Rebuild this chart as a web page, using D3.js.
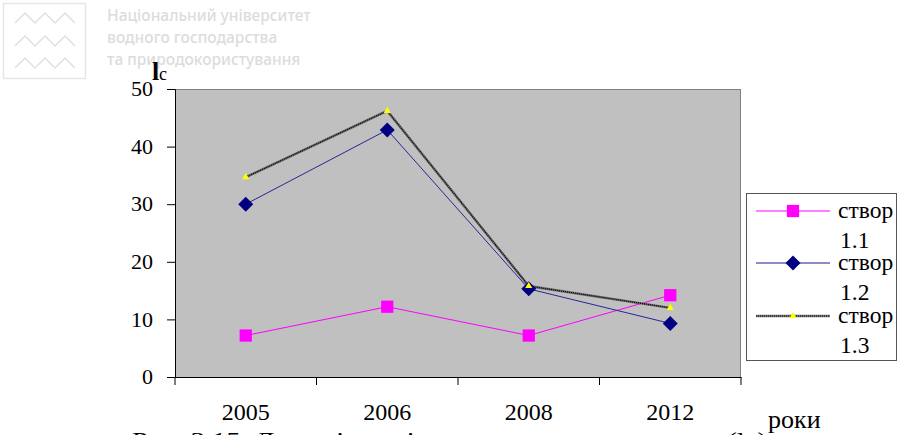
<!DOCTYPE html>
<html><head><meta charset="utf-8">
<script src="https://cdn.jsdelivr.net/npm/d3@7"></script>
<style>body{margin:0;background:#fff}svg{display:block}</style>
</head><body>
<svg id="c" width="900" height="435"></svg>
<script>
const years = ["2005", "2006", "2008", "2012"];
const s11 = [7.2, 12.2, 7.2, 14.2];
const s12 = [30, 42.9, 15.3, 9.3];
const s13 = [34.7, 46.2, 15.8, 12];
const yTicks = [0, 10, 20, 30, 40, 50];
const seriesNames = ["створ 1.1", "створ 1.2", "створ 1.3"];

const SERIF = '"Liberation Serif", "Times New Roman", serif';
const svg = d3.select("#c");
const L = 175, R = 741, T = 89, B = 377;
const x = d3.scaleBand().domain(years).range([L, R]);
const y = d3.scaleLinear().domain([0, 50]).range([B, T]);

// watermark
const wm = svg.append("g");
wm.append("rect").attr("x", 3.5).attr("y", 3.5).attr("width", 82).attr("height", 75)
  .attr("fill", "none").attr("stroke", "#e6e6e6").attr("stroke-width", 1.5);
[18, 41, 63].forEach(cy => {
  const pts = [];
  for (let i = 0; i <= 6; i++) pts.push([15 + i * 10, cy + (i % 2 === 0 ? 5 : -5)]);
  wm.append("path").attr("d", d3.line()(pts)).attr("fill", "none")
    .attr("stroke", "#e0e0e0").attr("stroke-width", 1.5);
});
const wmText = ["Національний університет", "водного господарства", "та природокористування"];
wm.selectAll("text.w").data(wmText).enter().append("text")
  .attr("x", 107).attr("y", (d, i) => 21 + i * 22)
  .style("font-family", '"Noto Sans", "Open Sans", sans-serif').attr("font-weight", 500)
  .attr("font-size", 15.5).attr("fill", "#dcdcdc").text(d => d);

// plot area
svg.append("rect").attr("x", L).attr("y", T).attr("width", R - L).attr("height", B - T)
  .attr("fill", "#c0c0c0");
svg.append("line").attr("x1", L).attr("x2", R).attr("y1", T + 0.5).attr("y2", T + 0.5)
  .attr("stroke", "#808080");
svg.append("line").attr("x1", R - 0.5).attr("x2", R - 0.5).attr("y1", T).attr("y2", B)
  .attr("stroke", "#808080");

// axes
const yAx = svg.append("g").attr("transform", `translate(${L},0)`)
  .call(d3.axisLeft(y).tickValues(yTicks).tickSize(8).tickPadding(14).tickFormat(d3.format("d")));
yAx.select(".domain").attr("stroke", "#000");
yAx.selectAll("text").style("font-family", SERIF).attr("font-size", 22).attr("fill", "#000").attr("dy", "0.3em");
const xAx = svg.append("g").attr("transform", `translate(0,${B})`)
  .call(d3.axisBottom(x).tickSize(0).tickPadding(26));
xAx.select(".domain").attr("stroke", "#000");
xAx.selectAll("text").style("font-family", SERIF).attr("font-size", 24).attr("fill", "#000");
xAx.selectAll(".bt").data(years.concat(["end"])).enter().append("line")
  .attr("x1", (d, i) => i < years.length ? x(d) : R).attr("x2", (d, i) => i < years.length ? x(d) : R)
  .attr("y1", 0).attr("y2", 8).attr("stroke", "#000");

// axis labels
svg.append("text").style("font-family", SERIF).attr("x", 152).attr("y", 80)
  .attr("font-weight", "bold").attr("font-size", 26).text("l");
svg.append("text").style("font-family", SERIF).attr("x", 159).attr("y", 80)
  .attr("font-size", 18).text("с");
svg.append("text").style("font-family", SERIF).attr("x", 768).attr("y", 428)
  .attr("font-size", 26).text("роки");
svg.append("text").style("font-family", SERIF).attr("x", 132).attr("y", 447)
  .attr("font-size", 20).attr("textLength", 635).attr("lengthAdjust", "spacingAndGlyphs")
  .text("Рис. 3.15. Динаміка зміни витрат води в створах (lс)");

const cx = d => x(d) + x.bandwidth() / 2;
const line = d3.line().x(d => cx(d.k)).y(d => y(d.v));
const toPts = arr => years.map((k, i) => ({k, v: arr[i]}));

// series lines
svg.append("path").attr("d", line(toPts(s11))).attr("fill", "none").attr("stroke", "#ff00ff").attr("stroke-width", 1);
svg.append("path").attr("d", line(toPts(s12))).attr("fill", "none").attr("stroke", "#26269a").attr("stroke-width", 1);
svg.append("path").attr("d", line(toPts(s13))).attr("fill", "none").attr("stroke", "#6a6a6a").attr("stroke-width", 2.5);
svg.append("path").attr("d", line(toPts(s13))).attr("fill", "none").attr("stroke", "#000").attr("stroke-width", 1.2).attr("stroke-dasharray", "1,1");

const sq = d3.symbol().type(d3.symbolSquare).size(150);
const dia = "M0,-7.5L7.5,0L0,7.5L-7.5,0Z";
const tri = d3.symbol().type(d3.symbolTriangle).size(22);
svg.selectAll(".m1").data(toPts(s11)).enter().append("path").attr("d", sq)
  .attr("transform", d => `translate(${cx(d.k)},${y(d.v)})`).attr("fill", "#ff00ff");
svg.selectAll(".m2").data(toPts(s12)).enter().append("path").attr("d", dia)
  .attr("transform", d => `translate(${cx(d.k)},${y(d.v)})`).attr("fill", "#000080");
svg.selectAll(".m3").data(toPts(s13)).enter().append("path").attr("d", tri)
  .attr("transform", d => `translate(${cx(d.k)},${y(d.v)})`).attr("fill", "#ffff00");

// legend
const lg = svg.append("g");
lg.append("rect").attr("x", 746.5).attr("y", 193.5).attr("width", 150).attr("height", 167)
  .attr("fill", "#fff").attr("stroke", "#555").attr("stroke-width", 1);
const legY = [211, 263, 316];
const cols = ["#ff00ff", "#1a1a8c", "#000"];
const markers = [sq, dia, tri];
const mfill = ["#ff00ff", "#000080", "#ffff00"];
seriesNames.forEach((n, i) => {
  const ly = legY[i];
  if (i === 2) {
    lg.append("line").attr("x1", 756).attr("x2", 830).attr("y1", ly).attr("y2", ly).attr("stroke", "#777").attr("stroke-width", 2.5);
    lg.append("line").attr("x1", 756).attr("x2", 830).attr("y1", ly).attr("y2", ly).attr("stroke", "#000").attr("stroke-width", 1.2).attr("stroke-dasharray", "1,1");
  } else {
    lg.append("line").attr("x1", 756).attr("x2", 830).attr("y1", ly).attr("y2", ly).attr("stroke", cols[i]).attr("stroke-width", 1);
  }
  lg.append("path").attr("d", markers[i]).attr("transform", `translate(793,${ly})`).attr("fill", mfill[i]);
  const parts = n.split(" ");
  lg.append("text").style("font-family", SERIF).attr("x", 838).attr("y", ly + 7).attr("font-size", 23.5).text(parts[0]);
  lg.append("text").style("font-family", SERIF).attr("x", 840).attr("y", ly + 37).attr("font-size", 23.5).text(parts[1]);
});
</script>
</body></html>
